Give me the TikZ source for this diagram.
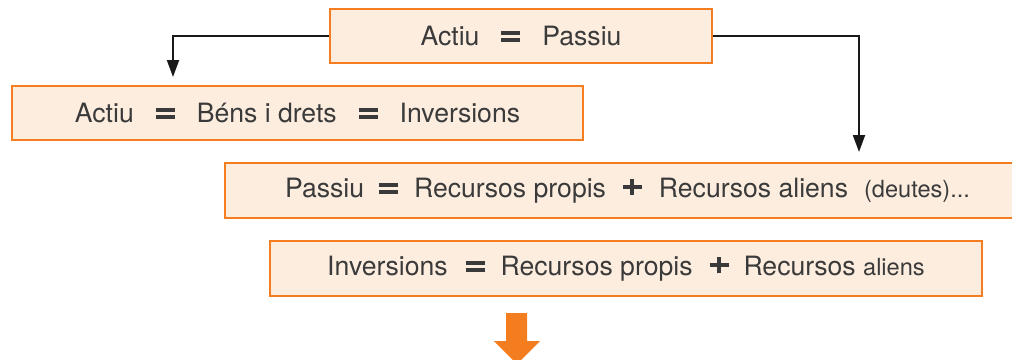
\documentclass[tikz,border=0pt]{standalone}
\usepackage{fontspec}
\setmainfont{TeX Gyre Heros}
\usepackage{tikz}
\usetikzlibrary{arrows.meta, calc}

\definecolor{taronja}{HTML}{F47D20}
\definecolor{crema}{HTML}{FDEDDF}
\definecolor{tinta}{HTML}{3A3A3A}
\newcommand{\igual}{\mbox{\rlap{\rule[5pt]{9.5pt}{2pt}}\rule[1.5pt]{9.5pt}{2pt}}}
\newcommand{\mes}{\mbox{\rlap{\rule[4pt]{9.5pt}{2pt}}\hspace{3.75pt}\rule[1pt]{2pt}{8pt}\hspace{3.75pt}}}
\newcommand{\petit}{\fontsize{11.8}{14}\selectfont}
\tikzset{
    caixa/.style={draw=taronja, fill=crema, line width=1.3pt, inner sep=0pt, text=tinta,
        font=\fontsize{13.3}{16}\selectfont},
    fletxa/.style={draw=black!90, line width=1pt, -{Triangle[length=8.5pt,width=6pt]}}
}

\begin{document}
\begin{tikzpicture}[x=0.5pt,y=-0.5pt]
            \useasboundingbox (0,0) rectangle (1012,359);

            \node[caixa, minimum width=191pt, minimum height=27pt] (eq) at (521,36)
                {Actiu\hspace{11pt}\igual\hspace{11pt}Passiu};
            \node[caixa, minimum width=285.5pt, minimum height=27pt] (actiu) at (297.5,113)
                {Actiu\hspace{11pt}\igual\hspace{11pt}Béns i drets\hspace{11pt}\igual\hspace{11pt}Inversions};
            \node[caixa, minimum width=402.5pt, minimum height=27.5pt] (passiu) at (627.5,190.5)
                {Passiu\hspace{7.5pt}\igual\hspace{8pt}Recursos propis\hspace{8.5pt}\mes\hspace{8.5pt}Recursos aliens\hspace{8pt}{\petit (deutes)...}};
            \node[caixa, minimum width=356pt, minimum height=27.5pt] (inv) at (626,268.5)
                {Inversions\hspace{9pt}\igual\hspace{8pt}Recursos propis\hspace{8.5pt}\mes\hspace{7.5pt}Recursos {\petit aliens}};

            \coordinate (puntA) at (173,77);
            \coordinate (puntP) at (859,152);
            \draw[fletxa] (eq.west) -| (puntA);
            \draw[fletxa] (eq.east) -| (puntP);

            \fill[taronja] (506,313) -- (527,313) -- (527,341) -- (540,341) -- (517,364)
                -- (494,341) -- (506,341) -- cycle;
        \end{tikzpicture}
\end{document}
